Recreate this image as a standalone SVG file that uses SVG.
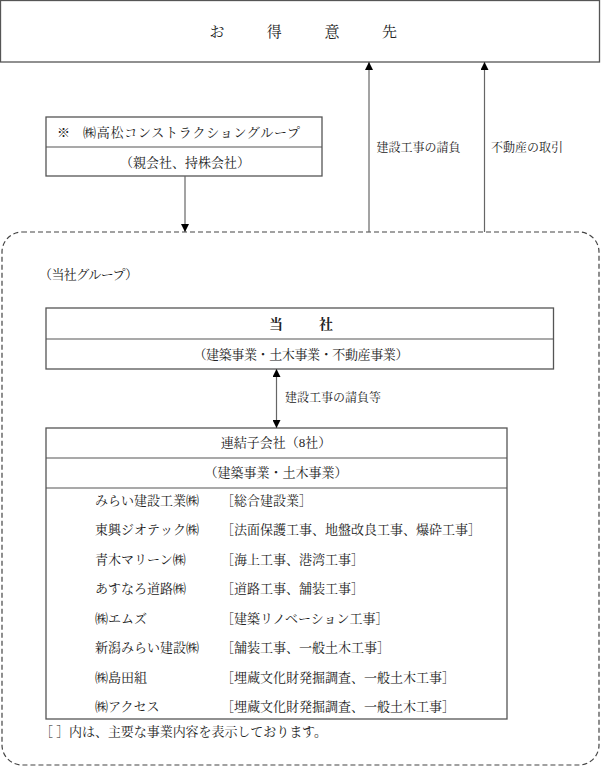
<svg xmlns="http://www.w3.org/2000/svg" width="601" height="767" viewBox="0 0 601 767">
<style>
.box{fill:#fff;stroke:#555;stroke-width:1.3}
.div{stroke:#555;stroke-width:1.2;fill:none}
.t{font-family:"Liberation Serif","Noto Serif CJK JP","Noto Sans CJK JP",serif;font-size:13px;fill:#222}
.s{font-size:12px}
.m{text-anchor:middle}
.ln{stroke:#666;stroke-width:1.2;fill:none}
</style>
<defs>
<marker id="ah" viewBox="0 0 10 10" refX="10" refY="5" markerWidth="9" markerHeight="8" markerUnits="userSpaceOnUse" orient="auto-start-reverse">
<path d="M0,0 L10,5 L0,10 z" fill="#000"/>
</marker>
</defs>

<g id="customer">
<rect class="box" x="0.5" y="0.5" width="599" height="61.5"/>
<text class="t" style="font-size:15px" x="209.5 266.7 324.5 382" y="37">お得意先</text>
</g>

<g id="group-frame">
<rect x="2" y="232" width="597" height="533" rx="20" ry="20" fill="none" stroke="#444" stroke-width="1.2" stroke-dasharray="5,3"/>
<text class="t" x="39" y="279" textLength="99" lengthAdjust="spacing">（当社グループ）</text>
</g>

<g id="parent">
<rect class="box" x="46" y="117" width="276" height="59"/>
<line class="div" x1="46" y1="147" x2="322" y2="147"/>
<text class="t" x="57" y="137">※</text>
<text class="t" x="83" y="137" textLength="217" lengthAdjust="spacing">㈱高松コンストラクショングループ</text>
<text class="t m" x="185" y="167">（親会社、持株会社）</text>
</g>

<g id="company">
<rect class="box" x="46" y="308" width="507.5" height="61"/>
<line class="div" x1="46" y1="339" x2="553.5" y2="339"/>
<text class="t" style="font-size:14px;font-weight:bold" x="269 319" y="329">当社</text>
<text class="t m" x="301" y="359" textLength="215" lengthAdjust="spacing">（建築事業・土木事業・不動産事業）</text>
</g>

<g id="subsidiaries">
<rect class="box" x="46" y="428" width="461" height="291"/>
<line class="div" x1="46" y1="458" x2="507" y2="458"/>
<line class="div" x1="46" y1="488" x2="507" y2="488"/>
<text class="t m" x="276" y="447">連結子会社（8社）</text>
<text class="t m" x="276" y="477">（建築事業・土木事業）</text>
<text class="t" x="95" y="504.5">みらい建設工業㈱</text>
<text class="t" x="221" y="504.5">［総合建設業］</text>
<text class="t" x="95" y="534">東興ジオテック㈱</text>
<text class="t" x="221" y="534">［法面保護工事、地盤改良工事、爆砕工事］</text>
<text class="t" x="95" y="563.5">青木マリーン㈱</text>
<text class="t" x="221" y="563.5">［海上工事、港湾工事］</text>
<text class="t" x="95" y="593">あすなろ道路㈱</text>
<text class="t" x="221" y="593">［道路工事、舗装工事］</text>
<text class="t" x="95" y="622.5">㈱エムズ</text>
<text class="t" x="221" y="622.5">［建築リノベーション工事］</text>
<text class="t" x="95" y="652">新潟みらい建設㈱</text>
<text class="t" x="221" y="652">［舗装工事、一般土木工事］</text>
<text class="t" x="95" y="681.5">㈱島田組</text>
<text class="t" x="221" y="681.5">［埋蔵文化財発掘調査、一般土木工事］</text>
<text class="t" x="95" y="711">㈱アクセス</text>
<text class="t" x="221" y="711">［埋蔵文化財発掘調査、一般土木工事］</text>
</g>

<g id="note">
<text class="t" x="40" y="736" textLength="287" lengthAdjust="spacing">［ ］内は、主要な事業内容を表示しております。</text>
</g>

<g id="connectors">
<line class="ln" x1="369" y1="232" x2="369" y2="62" marker-end="url(#ah)"/>
<line class="ln" x1="484.5" y1="232" x2="484.5" y2="62" marker-end="url(#ah)"/>
<line class="ln" x1="185" y1="176" x2="185" y2="232" marker-end="url(#ah)"/>
<line class="ln" x1="276.5" y1="369" x2="276.5" y2="428" marker-start="url(#ah)" marker-end="url(#ah)"/>
<text class="t s" x="376.5" y="152">建設工事の請負</text>
<text class="t s" x="491" y="152">不動産の取引</text>
<text class="t s" x="285" y="402">建設工事の請負等</text>
</g>
</svg>
